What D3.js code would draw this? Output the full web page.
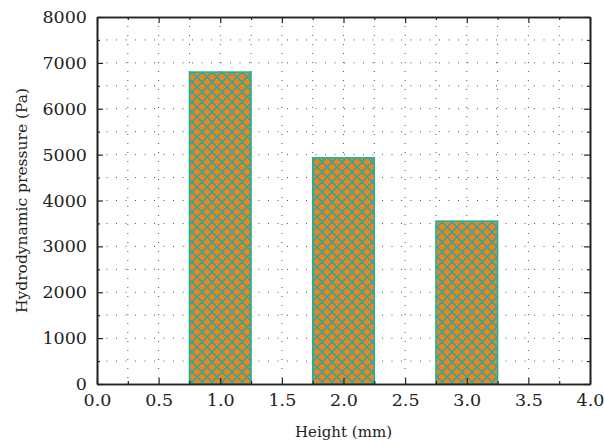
<!DOCTYPE html>
<html>
<head>
<meta charset="utf-8">
<script src="https://cdn.jsdelivr.net/npm/d3@7"></script>
<style>
  body { margin: 0; background: #fff; }
  text { font-family: "DejaVu Serif", "Liberation Serif", serif; fill: #222; }
</style>
</head>
<body>
<div id="chart"></div>
<script>
// data
var heights = [1.0, 2.0, 3.0];
var pressures = [6800, 4930, 3550];
var xTicks = [0, 0.5, 1, 1.5, 2, 2.5, 3, 3.5, 4];
var yTicks = [0, 1000, 2000, 3000, 4000, 5000, 6000, 7000, 8000];
var xMinor = [0.25, 0.75, 1.25, 1.75, 2.25, 2.75, 3.25, 3.75];
var yMinor = [500, 1500, 2500, 3500, 4500, 5500, 6500, 7500];

var margin = { top: 17, right: 14, bottom: 63, left: 97 };
var width = 604 - margin.left - margin.right;
var height = 447 - margin.top - margin.bottom;
var teal = "#17b0a2", orange = "#f5801f";

var svg = d3.select("#chart")
    .append("svg")
        .attr("width", 604)
        .attr("height", 447);

// crosshatch fill for bars
var defs = svg.append("defs");
var p = 10;
var pat = defs.append("pattern")
    .attr("id", "hatch")
    .attr("patternUnits", "userSpaceOnUse")
    .attr("width", p)
    .attr("height", p);
pat.append("rect").attr("width", p).attr("height", p).attr("fill", orange);
pat.append("path")
    .attr("d", "M0,0 L" + p + "," + p + " M0," + p + " L" + p + ",0" +
        " M-2,2 L2,-2 M" + (p - 2) + "," + (p + 2) + " L" + (p + 2) + "," + (p - 2) +
        " M-2," + (p - 2) + " L2," + (p + 2) + " M" + (p - 2) + ",-2 L" + (p + 2) + ",2")
    .attr("stroke", teal)
    .attr("stroke-width", 1.5);

var g = svg.append("g")
    .attr("transform", "translate(" + margin.left + "," + margin.top + ")");

var xScale = d3.scaleLinear().domain([0, 4]).range([0, width]);
var yScale = d3.scaleLinear().domain([0, 8000]).range([height, 0]);

// dotted grid
var xGrid = xTicks.concat(xMinor).filter(d => d > 0 && d < 4);
var yGrid = yTicks.concat(yMinor).filter(d => d > 0 && d < 8000);
g.append("g").selectAll("line")
    .data(xGrid)
    .enter().append("line")
        .attr("x1", d => xScale(d)).attr("x2", d => xScale(d))
        .attr("y1", 0).attr("y2", height)
        .attr("stroke", "#555")
        .attr("stroke-width", 1)
        .attr("stroke-dasharray", "1,8");
g.append("g").selectAll("line")
    .data(yGrid)
    .enter().append("line")
        .attr("x1", 0).attr("x2", width)
        .attr("y1", d => yScale(d)).attr("y2", d => yScale(d))
        .attr("stroke", "#555")
        .attr("stroke-width", 1)
        .attr("stroke-dasharray", "1,8.5");

// bars
g.append("g").selectAll("rect")
    .data(heights)
    .enter().append("rect")
        .attr("x", d => xScale(d - 0.25))
        .attr("y", (d, i) => yScale(pressures[i]))
        .attr("width", xScale(0.5) - xScale(0))
        .attr("height", (d, i) => height - yScale(pressures[i]))
        .attr("fill", "url(#hatch)")
        .attr("stroke", teal)
        .attr("stroke-width", 1.5);

// minor ticks (inward)
g.append("g").attr("transform", "translate(0," + height + ")")
    .call(d3.axisBottom(xScale).tickValues(xMinor).tickFormat("").tickSizeInner(-3).tickSizeOuter(0));
g.append("g")
    .call(d3.axisTop(xScale).tickValues(xMinor).tickFormat("").tickSizeInner(-3).tickSizeOuter(0));
g.append("g")
    .call(d3.axisLeft(yScale).tickValues(yMinor).tickFormat("").tickSizeInner(-3).tickSizeOuter(0));
g.append("g").attr("transform", "translate(" + width + ",0)")
    .call(d3.axisRight(yScale).tickValues(yMinor).tickFormat("").tickSizeInner(-3).tickSizeOuter(0));

// major axes, ticks pointing inward
g.append("g")
    .attr("class", "xaxis")
    .attr("transform", "translate(0," + height + ")")
    .call(d3.axisBottom(xScale).tickValues(xTicks).tickFormat(d3.format(".1f"))
        .tickSizeInner(-6).tickSizeOuter(0).tickPadding(10));
g.append("g")
    .attr("class", "yaxis")
    .call(d3.axisLeft(yScale).tickValues(yTicks).tickFormat(d3.format("d"))
        .tickSizeInner(-6).tickSizeOuter(0).tickPadding(10));
g.append("g")
    .call(d3.axisTop(xScale).tickValues(xTicks).tickFormat("")
        .tickSizeInner(-6).tickSizeOuter(0));
g.append("g")
    .attr("transform", "translate(" + width + ",0)")
    .call(d3.axisRight(yScale).tickValues(yTicks).tickFormat("")
        .tickSizeInner(-6).tickSizeOuter(0));

g.selectAll(".domain").attr("stroke", "#222").attr("stroke-width", 1.6);
g.selectAll(".tick line").attr("stroke", "#222").attr("stroke-width", 1.2);
g.selectAll(".tick text")
    .attr("font-family", "DejaVu Serif, Liberation Serif, serif")
    .attr("font-size", 17.5)
    .attr("fill", "#222");

// axis titles
g.append("text")
    .attr("transform", "translate(" + (width / 2) + "," + (height + 53) + ")")
    .style("text-anchor", "middle")
    .style("font-size", "15px")
    .text("Height (mm)");
g.append("text")
    .attr("transform", "rotate(-90)")
    .attr("x", 0 - height / 2)
    .attr("y", 0 - margin.left + 27)
    .style("text-anchor", "middle")
    .style("font-size", "15.5px")
    .text("Hydrodynamic pressure (Pa)");
</script>
</body>
</html>
